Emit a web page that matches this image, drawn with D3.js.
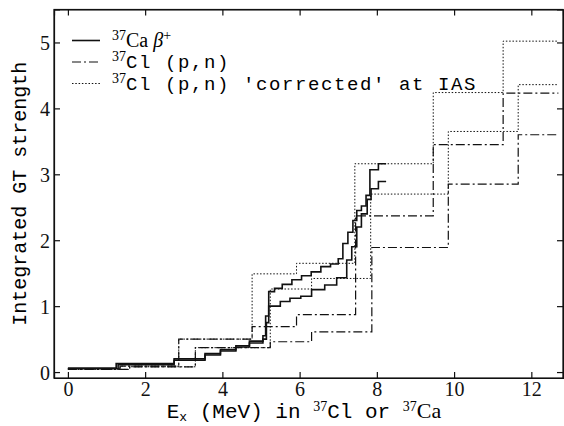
<!DOCTYPE html>
<html>
<head>
<meta charset="utf-8">
<script src="https://cdn.jsdelivr.net/npm/d3@7"></script>
<style>
  body { margin: 0; background: #fff; }
  svg { display: block; }
</style>
</head>
<body>
<div id="chartContainer"></div>
<script>
// step positions (MeV) and integrated strength after each step
const caUpperE = [0, 1.25, 2.75, 3.55, 3.95, 4.35, 4.7, 5.05, 5.12, 5.2, 5.35, 5.55, 5.8, 6.05, 6.3, 6.55, 6.8, 7.0, 7.12, 7.25, 7.38, 7.48, 7.6, 7.72, 7.82, 8.04]
const caUpperS = [0.06, 0.13, 0.2, 0.28, 0.34, 0.4, 0.47, 0.55, 0.85, 1.22, 1.27, 1.33, 1.4, 1.46, 1.52, 1.6, 1.64, 1.72, 1.95, 2.12, 2.3, 2.45, 2.52, 2.68, 3.07, 3.16]
const caLowerE = [0, 1.3, 2.75, 3.55, 3.95, 4.35, 4.7, 5.05, 5.14, 5.2, 5.5, 5.75, 6.03, 6.31, 6.65, 6.96, 7.22, 7.35, 7.48, 7.6, 7.75, 7.85, 8.04]
const caLowerS = [0.05, 0.11, 0.18, 0.26, 0.32, 0.38, 0.44, 0.5, 0.75, 1.0, 1.07, 1.12, 1.15, 1.25, 1.32, 1.43, 1.7, 1.9, 2.2, 2.4, 2.62, 2.78, 2.89]
const caEnd = 8.24

const pnAE = [0, 1.35, 2.87, 4.77, 5.92, 7.45, 9.46, 11.27]
const pnAS = [0.05, 0.09, 0.5, 0.69, 0.87, 2.37, 3.45, 4.23]
const pnBE = [0, 1.6, 3.3, 5.24, 6.31, 7.87, 9.85, 11.66]
const pnBS = [0.04, 0.08, 0.37, 0.46, 0.61, 1.89, 2.85, 3.6]

const corrAE = [0, 1.35, 2.87, 4.77, 5.92, 7.43, 9.46, 11.27]
const corrAS = [0.05, 0.09, 0.5, 1.49, 1.65, 3.16, 4.24, 5.02]
const corrBE = [0, 1.6, 3.3, 5.24, 6.31, 7.84, 9.85, 11.66]
const corrBS = [0.04, 0.08, 0.37, 1.26, 1.42, 2.7, 3.65, 4.36]
const pnEnd = 12.7

const xTicks = [0, 2, 4, 6, 8, 10, 12]
const yTicks = [0, 1, 2, 3, 4, 5]

const width = 564, height = 426
const margin = {top: 9.5, right: 1, bottom: 48, left: 54}

const serif = "'Liberation Serif', 'DejaVu Serif', serif"
const mono = "'Liberation Mono', 'DejaVu Sans Mono', monospace"

const x = d3.scaleLinear()
    .domain([-0.36, 12.82])
    .range([margin.left, width - margin.right])

const y = d3.scaleLinear()
    .domain([-0.09, 5.5])
    .range([height - margin.bottom, margin.top])

const svg = d3.select('#chartContainer')
  .append('svg')
  .attr('width', width)
  .attr('height', height)

const stairs = (es, ss, end) => {
  const pts = es.map((e, i) => [e, ss[i]])
  pts.push([end, ss[ss.length - 1]])
  return pts
}

const line = d3.line()
    .x(d => x(d[0]))
    .y(d => y(d[1]))
    .curve(d3.curveStepAfter)

const styles = {
  solid: {w: 1.6, dash: null},
  dashdot: {w: 1.2, dash: '9,3,2,3'},
  dotted: {w: 1, dash: '1.5,1.8'}
}

const series = [
  {pts: stairs(corrAE, corrAS, pnEnd), s: 'dotted'},
  {pts: stairs(corrBE, corrBS, pnEnd), s: 'dotted'},
  {pts: stairs(pnAE, pnAS, pnEnd), s: 'dashdot'},
  {pts: stairs(pnBE, pnBS, pnEnd), s: 'dashdot'},
  {pts: stairs(caLowerE, caLowerS, caEnd), s: 'solid'},
  {pts: stairs(caUpperE, caUpperS, caEnd), s: 'solid'}
]

svg.append('g')
  .selectAll('path')
  .data(series)
  .join('path')
    .attr('fill', 'none')
    .attr('stroke', '#111')
    .attr('stroke-width', d => styles[d.s].w)
    .attr('stroke-dasharray', d => styles[d.s].dash)
    .attr('d', d => line(d.pts))

// axes with inward ticks on all four sides
const tick = 6
const bottom = svg.append('g')
    .attr('transform', `translate(0,${height - margin.bottom})`)
    .call(d3.axisTop(x).tickValues(xTicks).tickSize(tick).tickFormat(''))
bottom.selectAll('.tick').append('text')
    .attr('y', 18)
    .attr('text-anchor', 'middle')
    .attr('fill', '#111')
    .style('font-family', serif)
    .style('font-size', '20px')
    .text(d => d)

svg.append('g')
    .attr('transform', `translate(0,${margin.top})`)
    .call(d3.axisBottom(x).tickValues(xTicks).tickSize(tick).tickFormat(''))

const left = svg.append('g')
    .attr('transform', `translate(${margin.left},0)`)
    .call(d3.axisRight(y).tickValues(yTicks).tickSize(tick).tickFormat(''))
left.selectAll('.tick').append('text')
    .attr('x', -4)
    .attr('dy', '0.35em')
    .attr('text-anchor', 'end')
    .attr('fill', '#111')
    .style('font-family', serif)
    .style('font-size', '20px')
    .text(d => d)

svg.append('g')
    .attr('transform', `translate(${width - margin.right},0)`)
    .call(d3.axisLeft(y).tickValues(yTicks).tickSize(tick).tickFormat(''))

svg.selectAll('.domain, .tick line')
    .attr('stroke', '#111')
    .attr('stroke-width', 1.2)

svg.append('rect')
    .attr('x', margin.left)
    .attr('y', margin.top)
    .attr('width', width - margin.left - margin.right)
    .attr('height', height - margin.top - margin.bottom)
    .attr('fill', 'none')
    .attr('stroke', '#111')
    .attr('stroke-width', 1.2)

// axis titles
svg.append('text')
    .attr('transform', `translate(26,${(height - margin.bottom + margin.top) / 2}) rotate(-90)`)
    .attr('text-anchor', 'middle')
    .style('font-family', mono)
    .style('font-size', '20px')
    .text('Integrated GT strength')

const xt = svg.append('text')
    .attr('x', 304)
    .attr('y', 418)
    .attr('text-anchor', 'middle')
    .style('font-family', mono)
    .style('font-size', '21px')
xt.append('tspan').text('E')
xt.append('tspan').attr('dy', 3).style('font-size', '13px').text('x')
xt.append('tspan').attr('dy', -3).text(' (MeV) in ')
xt.append('tspan').attr('dy', -7).style('font-family', serif).style('font-size', '14px').text('37')
xt.append('tspan').attr('dy', 7).text('Cl or ')
xt.append('tspan').attr('dy', -7).style('font-family', serif).style('font-size', '14px').text('37')
xt.append('tspan').attr('dy', 7).style('font-family', serif).style('font-size', '22px').text('Ca')

// legend
const legend = [
  {s: 'solid', y: 40.5, label: 'Ca', rest: null},
  {s: 'dashdot', y: 62, label: 'Cl', rest: ' (p,n)'},
  {s: 'dotted', y: 83.5, label: 'Cl', rest: " (p,n) 'corrected' at IAS"}
]

const lg = svg.append('g')
legend.forEach(d => {
  lg.append('line')
      .attr('x1', 72).attr('x2', 100)
      .attr('y1', d.y).attr('y2', d.y)
      .attr('stroke', '#111')
      .attr('stroke-width', styles[d.s].w)
      .attr('stroke-dasharray', styles[d.s].dash)
  const t = lg.append('text')
      .attr('x', 112)
      .attr('y', d.y + 6)
      .style('font-size', '19px')
  t.append('tspan').attr('dy', -7).style('font-family', serif).style('font-size', '14px').text('37')
  if (d.label === 'Ca') {
    t.append('tspan').attr('dy', 7).style('font-family', serif).style('font-size', '20px').text('Ca ')
    t.append('tspan').style('font-family', serif).style('font-size', '20px').style('font-style', 'italic').text(' β')
    t.append('tspan').attr('dy', -7).style('font-family', serif).style('font-size', '14px').text('+')
  } else {
    t.append('tspan').attr('dy', 7).style('font-family', mono).style('letter-spacing', '1.6px').text(d.label + d.rest)
  }
})

svg.node()
</script>
</body>
</html>
